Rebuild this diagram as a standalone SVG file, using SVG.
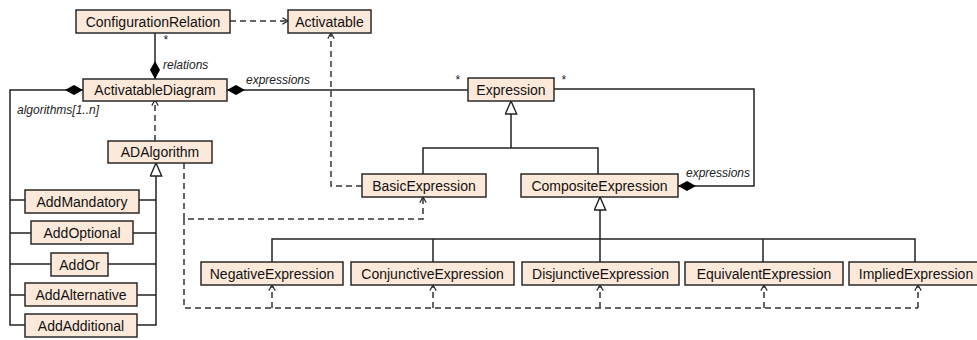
<svg xmlns="http://www.w3.org/2000/svg" width="977" height="340" viewBox="0 0 977 340">
<style>
.box rect{fill:#fde9da;stroke:#2a2a2a;stroke-width:1.5}
.box text{font-family:"Liberation Sans",Arial,sans-serif;font-size:14px;fill:#111;text-anchor:middle}
.c{fill:none;stroke:#222;stroke-width:1.5}
.d{fill:none;stroke:#333;stroke-width:1.5;stroke-dasharray:6,4}
.lbl{font-family:"Liberation Sans",Arial,sans-serif;font-size:12px;font-style:italic;fill:#222}
</style>
<defs>
<marker id="open" viewBox="0 0 10 10" refX="10" refY="5" markerWidth="8" markerHeight="8" markerUnits="userSpaceOnUse" orient="auto">
<path d="M3,1 L10,5 L3,9" fill="none" stroke="#222" stroke-width="1.4"/>
</marker>
<marker id="dia" viewBox="0 0 18 10" refX="0" refY="5" markerWidth="18" markerHeight="10" markerUnits="userSpaceOnUse" orient="auto">
<path d="M0,5 L9,0 L18,5 L9,10 Z" fill="#000"/>
</marker>
<marker id="tri" viewBox="0 0 15 13" refX="14" refY="6.5" markerWidth="15" markerHeight="13" markerUnits="userSpaceOnUse" orient="auto">
<path d="M1,0.8 L14,6.5 L1,12.2 Z" fill="#fff" stroke="#222" stroke-width="1.4"/>
</marker>
</defs>
<rect width="977" height="340" fill="#fff"/>
<g id="connectors">
<path class="d" d="M230,21 H288" marker-end="url(#open)"/>
<path class="c" d="M155,79 V33" marker-start="url(#dia)"/>
<path class="c" d="M83,90 H10 V325 H25" marker-start="url(#dia)"/>
<path class="c" d="M10,200 H25 M10,233 H31 M10,264 H51 M10,295 H25"/>
<path class="c" d="M227,90 H468" marker-start="url(#dia)"/>
<path class="c" d="M678,186 H754 V89 H554" marker-start="url(#dia)"/>
<path class="c" d="M511,148 V101" marker-end="url(#tri)"/>
<path class="c" d="M423,174 V148 H598 V174"/>
<path class="c" d="M600,239 V197" marker-end="url(#tri)"/>
<path class="c" d="M272,262 V239 H915 V262 M433,239 V262 M600,239 V262 M763,239 V262"/>
<path class="c" d="M156,177 V163" marker-end="url(#tri)"/>
<path class="c" d="M156,177 V325 H137 M139,200 H156 M133,233 H156 M108,264 H156 M137,295 H156"/>
<path class="d" d="M155,141 V100" marker-end="url(#open)"/>
<path class="d" d="M362,186 H331 V33" marker-end="url(#open)"/>
<path class="d" d="M184,163 V219 H423 V197" marker-end="url(#open)"/>
<path class="d" d="M184,219 V308 H918"/>
<path class="d" d="M272,308 V285" marker-end="url(#open)"/>
<path class="d" d="M433,308 V285" marker-end="url(#open)"/>
<path class="d" d="M600,308 V285" marker-end="url(#open)"/>
<path class="d" d="M764,308 V285" marker-end="url(#open)"/>
<path class="d" d="M918,308 V285" marker-end="url(#open)"/>
<text class="lbl" x="163" y="44" font-style="normal">*</text>
<text class="lbl" x="163" y="69">relations</text>
<text class="lbl" x="246" y="84">expressions</text>
<text class="lbl" x="455" y="84" font-style="normal">*</text>
<text class="lbl" x="561" y="84" font-style="normal">*</text>
<text class="lbl" x="686" y="177">expressions</text>
<text class="lbl" x="17" y="114">algorithms[1..n]</text>
</g>
<g id="ConfigurationRelation" class="box"><rect x="76" y="10" width="154" height="23"/><text x="153" y="26.5">ConfigurationRelation</text></g>
<g id="Activatable" class="box"><rect x="288" y="10" width="83" height="23"/><text x="329.5" y="26.5">Activatable</text></g>
<g id="ActivatableDiagram" class="box"><rect x="83" y="79" width="144" height="22"/><text x="155" y="95">ActivatableDiagram</text></g>
<g id="Expression" class="box"><rect x="468" y="78" width="86" height="23"/><text x="511" y="94.5">Expression</text></g>
<g id="ADAlgorithm" class="box"><rect x="108" y="141" width="104" height="22"/><text x="160" y="157">ADAlgorithm</text></g>
<g id="BasicExpression" class="box"><rect x="362" y="174" width="124" height="23"/><text x="424" y="190.5">BasicExpression</text></g>
<g id="CompositeExpression" class="box"><rect x="521" y="174" width="157" height="23"/><text x="599.5" y="190.5">CompositeExpression</text></g>
<g id="AddMandatory" class="box"><rect x="25" y="190" width="114" height="23"/><text x="82" y="206.5">AddMandatory</text></g>
<g id="AddOptional" class="box"><rect x="31" y="221" width="102" height="23"/><text x="82" y="237.5">AddOptional</text></g>
<g id="AddOr" class="box"><rect x="51" y="253" width="57" height="23"/><text x="79.5" y="269.5">AddOr</text></g>
<g id="AddAlternative" class="box"><rect x="25" y="283" width="112" height="23"/><text x="81" y="299.5">AddAlternative</text></g>
<g id="AddAdditional" class="box"><rect x="25" y="314" width="112" height="23"/><text x="81" y="330.5">AddAdditional</text></g>
<g id="NegativeExpression" class="box"><rect x="201" y="262" width="142" height="23"/><text x="272" y="278.5">NegativeExpression</text></g>
<g id="ConjunctiveExpression" class="box"><rect x="351" y="262" width="163" height="23"/><text x="432.5" y="278.5">ConjunctiveExpression</text></g>
<g id="DisjunctiveExpression" class="box"><rect x="522" y="262" width="157" height="23"/><text x="600.5" y="278.5">DisjunctiveExpression</text></g>
<g id="EquivalentExpression" class="box"><rect x="685" y="262" width="158" height="23"/><text x="764" y="278.5">EquivalentExpression</text></g>
<g id="ImpliedExpression" class="box"><rect x="849" y="262" width="132" height="23"/><text x="916" y="278.5">ImpliedExpression</text></g>
</svg>
